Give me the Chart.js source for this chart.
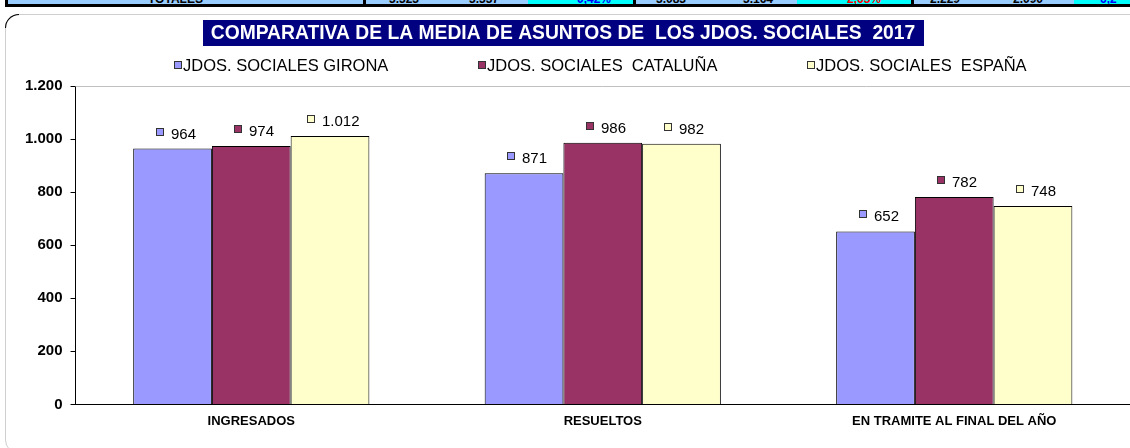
<!DOCTYPE html>
<html>
<head>
<meta charset="utf-8">
<script src="https://cdn.jsdelivr.net/npm/chart.js@4/dist/chart.umd.min.js"></script>
<style>
  body { margin: 0; background: #fff; width: 1130px; height: 448px; overflow: hidden; position: relative; font-family: "Liberation Sans", Arial, sans-serif; }
  #strip { position: absolute; left: 5px; top: 0; width: 1125px; height: 4px; background: #99ccff; border-bottom: 3px solid #000; overflow: hidden; }
  .cyan { position: absolute; top: 0; height: 4px; background: #00ffff; }
  .t { position: absolute; top: -7px; font: bold 12px "Liberation Sans", Arial, sans-serif; line-height: 12px; color: #000; white-space: nowrap; }
  .sep { position: absolute; top: 0; width: 3px; height: 7px; background: #000; }
  #frame { position: absolute; left: 5px; top: 14px; width: 1200px; height: 440px; border: 1px solid #cfcfcf; border-radius: 14px; box-sizing: border-box; }
  #corner { position: absolute; left: 5px; top: 14px; width: 14px; height: 14px; border-top: 1px solid #000; border-left: 1px solid #000; border-top-left-radius: 14px; box-sizing: border-box; }
  canvas { position: absolute; left: 0; top: 0; }
</style>
</head>
<body>
<div id="strip">
  <div class="cyan" style="left:523px;width:106px"></div>
  <div class="cyan" style="left:792px;width:114px"></div>
  <div class="cyan" style="left:1069px;width:60px"></div>
  <span class="t" style="left:143px">TOTALES</span>
  <span class="t" style="left:384px">3.323</span>
  <span class="t" style="left:464px">3.337</span>
  <span class="t" style="left:572px;color:#0000ff">0,42%</span>
  <span class="t" style="left:651px">3.083</span>
  <span class="t" style="left:738px">3.164</span>
  <span class="t" style="left:842px;color:#ff0000">2,63%</span>
  <span class="t" style="left:925px">2.229</span>
  <span class="t" style="left:1008px">2.090</span>
  <span class="t" style="left:1091px;color:#0000ff">-6,2</span>
</div>
<div class="sep" style="left:5px"></div>
<div class="sep" style="left:363px"></div>
<div class="sep" style="left:633px"></div>
<div class="sep" style="left:911px"></div>
<div id="frame"></div>
<div id="corner"></div>
<canvas id="chart" width="1130" height="448"></canvas>
<script>
'use strict';

const TITLE = 'COMPARATIVA DE LA MEDIA DE ASUNTOS DE  LOS JDOS. SOCIALES  2017';
const CATEGORIES = ['INGRESADOS', 'RESUELTOS', 'EN TRAMITE AL FINAL DEL AÑO'];
const SERIES_LABELS = ['JDOS. SOCIALES GIRONA', 'JDOS. SOCIALES  CATALUÑA', 'JDOS. SOCIALES  ESPAÑA'];
const GIRONA = [964, 871, 652];
const CATALUNA = [974, 986, 782];
const ESPANA = [1012, 982, 748];
const Y_TICKS = [0, 200, 400, 600, 800, 1000, 1200];
const COLORS = ['#9999ff', '#993366', '#ffffcc'];

const FONT = '"Liberation Sans", Arial, sans-serif';

// 1200 -> "1.200"
function fmt(v) {
  return String(v).replace(/\B(?=(\d{3})+(?!\d))/g, '.');
}

// ── Title box + legend (custom drawn) ──────────────────────────────────────
const headerPlugin = {
  id: 'header',
  afterDraw(chart) {
    const { ctx, chartArea } = chart;
    ctx.save();

    ctx.font = 'bold 19.3px ' + FONT;
    const tw = ctx.measureText(TITLE).width;
    const cx = chart.width / 2 - 2;
    ctx.fillStyle = '#000080';
    ctx.fillRect(Math.round(cx - tw / 2 - 8), 20, Math.round(tw + 16), 26);
    ctx.fillStyle = '#fff';
    ctx.textAlign = 'center';
    ctx.textBaseline = 'middle';
    ctx.fillText(TITLE, cx, 34);

    ctx.font = '16.5px ' + FONT;
    const items = chart.data.datasets.map(ds => ({ ds, w: 9 + ctx.measureText(ds.label).width }));
    const gap = 90;
    const total = items.reduce((s, it) => s + it.w, 0) + gap * (items.length - 1);
    let x = Math.round((chartArea.left + chartArea.right) / 2 - 2 - total / 2);
    const y = 65;
    ctx.textAlign = 'left';
    items.forEach(it => {
      ctx.fillStyle = it.ds.backgroundColor;
      ctx.fillRect(x + 0.5, y - 3.5, 7, 7);
      ctx.strokeStyle = '#333';
      ctx.lineWidth = 1;
      ctx.strokeRect(x + 0.5, y - 3.5, 7, 7);
      ctx.fillStyle = '#000';
      ctx.fillText(it.ds.label, x + 9, y + 1);
      x = Math.round(x + it.w + gap);
    });
    ctx.restore();
  }
};

// ── Value labels with legend key + plot top border ─────────────────────────
const valuePlugin = {
  id: 'values',
  beforeDatasetsDraw(chart) {
    const { ctx, chartArea } = chart;
    ctx.save();
    ctx.strokeStyle = '#c0c0c0';
    ctx.lineWidth = 1;
    ctx.beginPath();
    ctx.moveTo(chartArea.left, Math.round(chartArea.top) + 0.5);
    ctx.lineTo(chartArea.right, Math.round(chartArea.top) + 0.5);
    ctx.stroke();
    ctx.restore();
  },
  afterDatasetsDraw(chart) {
    const { ctx } = chart;
    ctx.save();
    ctx.font = '15px ' + FONT;
    ctx.textBaseline = 'middle';
    ctx.textAlign = 'left';
    chart.data.datasets.forEach((ds, i) => {
      chart.getDatasetMeta(i).data.forEach((bar, j) => {
        const txt = fmt(ds.data[j]);
        const tw = ctx.measureText(txt).width;
        const w = 8 + 7 + tw;
        const x0 = Math.round(bar.x - w / 2 + 3);
        const y = Math.round(bar.y - 15);
        ctx.fillStyle = ds.backgroundColor;
        ctx.fillRect(x0 + 0.5, y - 5.5, 7, 7);
        ctx.strokeStyle = '#333';
        ctx.lineWidth = 1;
        ctx.strokeRect(x0 + 0.5, y - 5.5, 7, 7);
        ctx.fillStyle = '#000';
        ctx.fillText(txt, x0 + 15, y + 1);
      });
    });
    ctx.restore();
  }
};

const datasets = [GIRONA, CATALUNA, ESPANA].map((data, i) => ({
  label: SERIES_LABELS[i],
  data,
  backgroundColor: COLORS[i],
  borderColor: '#000',
  borderWidth: 1,
  categoryPercentage: 0.672,
  barPercentage: 1,
}));

new Chart(document.getElementById('chart'), {
  type: 'bar',
  data: { labels: CATEGORIES, datasets },
  options: {
    responsive: false,
    animation: false,
    layout: { padding: { left: 17, right: 0, top: 86, bottom: 10 } },
    plugins: {
      legend: { display: false },
      title: { display: false },
      tooltip: { enabled: false },
    },
    scales: {
      x: {
        grid: { display: false, drawTicks: false },
        border: { color: '#000', width: 1 },
        ticks: { color: '#000', padding: 9, maxRotation: 0, font: { family: FONT, size: 13, weight: 'bold' } },
      },
      y: {
        min: 0,
        max: 1200,
        afterBuildTicks: axis => { axis.ticks = Y_TICKS.map(v => ({ value: v })); },
        grid: { drawOnChartArea: false, tickLength: 5, color: '#000' },
        border: { color: '#000', width: 1 },
        ticks: { color: '#000', padding: 8, font: { family: FONT, size: 15, weight: 'bold' }, callback: v => fmt(v) },
      },
    },
  },
  plugins: [headerPlugin, valuePlugin],
});
</script>
</body>
</html>
